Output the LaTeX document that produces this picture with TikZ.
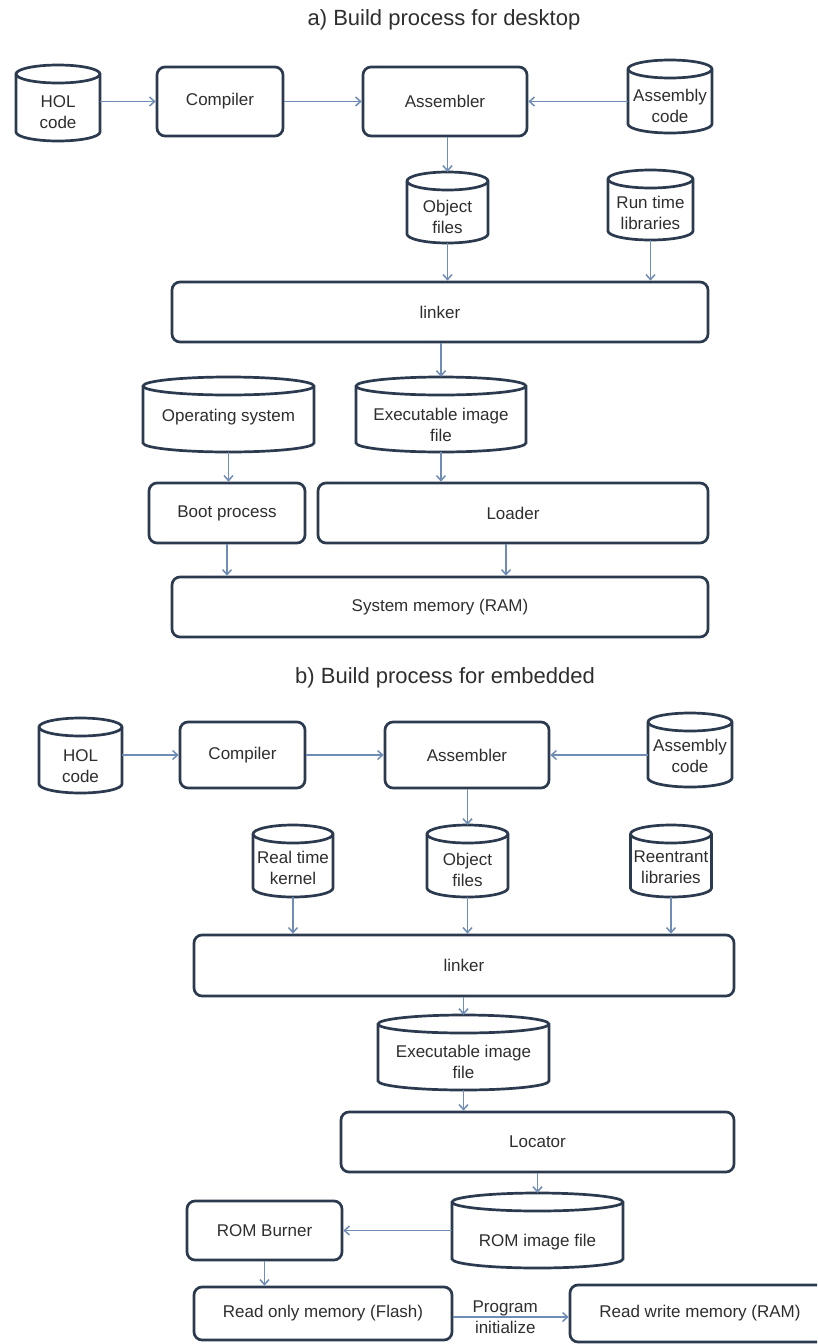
\documentclass[tikz,border=0pt]{standalone}
\usepackage{fontspec}
\setmainfont{Liberation Sans}
\usetikzlibrary{arrows.meta}

\definecolor{edge}{HTML}{2B3A4F}
\definecolor{flow}{HTML}{6F8CB4}
\definecolor{ink}{HTML}{2E2E2E}

\tikzset{
  every node/.style={font=\fontsize{17}{21}\selectfont, text=ink},
  stage/.style={draw=edge, line width=2.7pt, rounded corners=8pt, align=center, inner sep=0pt},
  drumbody/.style={inner sep=0pt},
  drumline/.style={draw=edge, line width=2.7pt},
  drumtext/.style={align=center, inner sep=0pt},
  flowarrow/.style={draw=flow, line width=1.5pt, -{Straight Barb[length=5pt,width=9pt]}},
  heading/.style={font=\fontsize{22}{26}\selectfont}
}

% rounded process box: name, x, y, width, height, text
\newcommand{\stagebox}[6]{%
  \node[stage, minimum width=#4pt, minimum height=#5pt] (#1) at (#2,#3) {#6};}

% storage drum: name, x, y, width, height, text offset, text
\newcommand{\drum}[7]{%
  \pgfmathsetmacro\drumL{#2-#4/2}%
  \pgfmathsetmacro\drumR{#2+#4/2}%
  \pgfmathsetmacro\drumT{#3-#5/2}%
  \pgfmathsetmacro\drumB{#3+#5/2}%
  \pgfmathsetmacro\drumRx{#4/2}%
  \node[drumbody, minimum width=#4pt, minimum height=#5pt] (#1) at (#2,#3) {};
  \draw[drumline] ({\drumL},{\drumT+9}) -- ({\drumL},{\drumB-9})
    arc[start angle=180, end angle=360, x radius=\drumRx pt, y radius=9pt]
    -- ({\drumR},{\drumT+9})
    arc[start angle=0, end angle=180, x radius=\drumRx pt, y radius=9pt] -- cycle;
  \draw[drumline] ({\drumL},{\drumT+9})
    arc[start angle=180, end angle=360, x radius=\drumRx pt, y radius=9pt];
  \node[drumtext] (#1-t) at (#2,{#3+#6}) {#7};}

\begin{document}
\begin{tikzpicture}[x=1pt, y=-1pt]
\useasboundingbox (0,0) rectangle (817,1344);
\clip (0,0) rectangle (817,1344);
\fill[white] (0,0) rectangle (817,1344);

% ---------- a) desktop ----------
\node[heading] (titleA) at (444,20) {a) Build process for desktop};
\drum{holA}{58}{103}{84}{76}{9}{HOL\\code}
\stagebox{compA}{220}{101.5}{126}{69}{Compiler}
\stagebox{asmA}{445}{101.5}{164}{69}{Assembler}
\drum{ascA}{670}{96.5}{84}{73}{9.5}{Assembly\\code}
\drum{objA}{447.5}{207.5}{81}{71}{9}{Object\\files}
\drum{rtlA}{650.5}{205}{85}{70}{8}{Run time\\libraries}
\stagebox{linkA}{440}{312}{536}{60}{linker}
\drum{osA}{228.5}{414.5}{171}{75}{3}{Operating system}
\drum{exeA}{441}{414.5}{170}{75}{10}{Executable image\\file}
\stagebox{bootA}{227}{513}{156}{60}{Boot process}
\stagebox{loadA}{513}{513}{390}{60}{Loader}
\stagebox{sysA}{440}{607}{536}{60}{System memory (RAM)}

\draw[flowarrow] (holA.east |- compA.west) -- (compA.west);
\draw[flowarrow] (compA.east) -- (asmA.west);
\draw[flowarrow] (ascA.west |- asmA.east) -- (asmA.east);
\draw[flowarrow] (asmA.south -| objA.north) -- (objA.north);
\draw[flowarrow] (objA.south) -- (objA.south |- linkA.north);
\draw[flowarrow] (rtlA.south) -- (rtlA.south |- linkA.north);
\draw[flowarrow] (linkA.south -| exeA.north) -- (exeA.north);
\draw[flowarrow] (osA.south) -- (osA.south |- bootA.north);
\draw[flowarrow] (exeA.south) -- (exeA.south |- loadA.north);
\draw[flowarrow] (bootA.south) -- (bootA.south |- sysA.north);
\draw[flowarrow] ([xshift=-7pt]loadA.south) -- ([xshift=-7pt]loadA.south |- sysA.north);

% ---------- b) embedded ----------
\node[heading] (titleB) at (445,678) {b) Build process for embedded};
\drum{holB}{80.5}{755.5}{83}{75}{11}{HOL\\code}
\stagebox{compB}{242.5}{755}{125}{66}{Compiler}
\stagebox{asmB}{467}{755}{164}{66}{Assembler}
\drum{ascB}{690}{750}{84}{74}{6}{Assembly\\code}
\drum{rtkB}{293}{861}{80}{72}{6.5}{Real time\\kernel}
\drum{objB}{467.5}{861}{81}{72}{9}{Object\\files}
\drum{relB}{671}{861}{81}{72}{6.5}{Reentrant\\libraries}
\stagebox{linkB}{464}{965.5}{540}{61}{linker}
\drum{exeB}{463.5}{1052.5}{171}{75}{9.5}{Executable image\\file}
\stagebox{locB}{537.5}{1142}{393}{60}{Locator}
\drum{romB}{537.5}{1230.5}{171}{75}{12}{ROM image file}
\stagebox{burnB}{264.5}{1230.5}{155}{59}{ROM Burner}
\stagebox{flashB}{323}{1313.5}{258}{53}{Read only memory (Flash)}
\stagebox{ramB}{700}{1313.5}{260}{57}{Read write memory (RAM)}

\draw[flowarrow] (holB.east |- compB.west) -- (compB.west);
\draw[flowarrow] (compB.east) -- (asmB.west);
\draw[flowarrow] (ascB.west |- asmB.east) -- (asmB.east);
\draw[flowarrow] (asmB.south -| objB.north) -- (objB.north);
\draw[flowarrow] (rtkB.south) -- (rtkB.south |- linkB.north);
\draw[flowarrow] (objB.south) -- (objB.south |- linkB.north);
\draw[flowarrow] (relB.south) -- (relB.south |- linkB.north);
\draw[flowarrow] (linkB.south -| exeB.north) -- (exeB.north);
\draw[flowarrow] (exeB.south) -- (exeB.south |- locB.north);
\draw[flowarrow] (locB.south) -- (romB.north);
\draw[flowarrow] (romB.west) -- (romB.west -| burnB.east);
\draw[flowarrow] (burnB.south) -- (burnB.south |- flashB.north);
\draw[flowarrow] ([yshift=-3.5pt]flashB.east) -- ([yshift=-3.5pt]flashB.east -| ramB.west)
  node[pos=0.45, align=center, inner sep=0pt] (initLbl) {Program\\initialize};
\end{tikzpicture}
\end{document}
